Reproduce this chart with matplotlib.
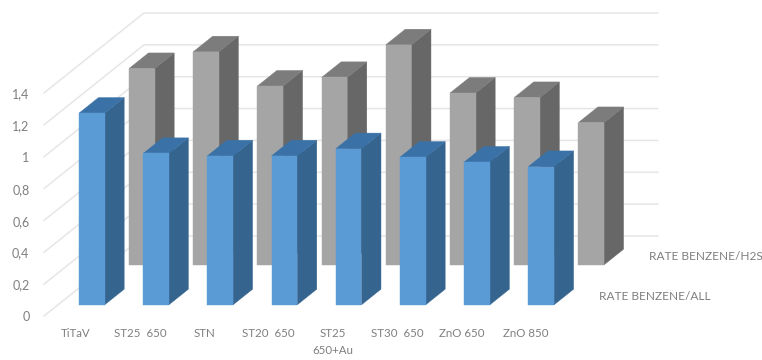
import matplotlib.pyplot as plt
from matplotlib.patches import Polygon

categories = ["TiTaV", "ST25  650", "STN", "ST20  650", "ST25\n650+Au", "ST30  650", "ZnO 650", "ZnO 850"]
rate_all = [1.203, 0.95, 0.935, 0.935, 0.98, 0.927, 0.896, 0.868]
rate_h2s = [1.232, 1.337, 1.122, 1.176, 1.381, 1.078, 1.05, 0.893]
value_ticks = [0, 0.2, 0.4, 0.6, 0.8, 1, 1.2, 1.4]
tick_labels = ["0", "0,2", "0,4", "0,6", "0,8", "1", "1,2", "1,4"]
series_names = ["RATE BENZENE/ALL", "RATE BENZENE/H2S"]

# oblique projection: one depth unit (one series row) in category / value units
SHEAR_X = 50 / 64.2
SHEAR_Y = 40 / 159.3
BAR_W = 0.4
BAR_D = 0.39
TEXT = "#7f7f7f"
GRID = "#e6e6e6"


def project(x, y, z):
    return x + z * SHEAR_X, y + z * SHEAR_Y


def draw_bar(ax, cat, value, row, front, side, top):
    x0 = cat + 0.327
    x1 = x0 + BAR_W
    z0 = row + 0.28
    z1 = z0 + BAR_D
    faces = [
        ([(x1, 0, z0), (x1, 0, z1), (x1, value, z1), (x1, value, z0)], side),
        ([(x0, value, z0), (x1, value, z0), (x1, value, z1), (x0, value, z1)], top),
        ([(x0, 0, z0), (x1, 0, z0), (x1, value, z0), (x0, value, z0)], front),
    ]
    for corners, color in faces:
        ax.add_patch(Polygon([project(*c) for c in corners], closed=True,
                             facecolor=color, edgecolor=color, linewidth=0.3, zorder=3 - row))


plt.rcParams["font.family"] = ["Lato", "DejaVu Sans"]
fig = plt.figure(figsize=(7.62, 3.6), dpi=100)
ax = fig.add_axes([0, 0, 1, 1])
ax.set_xlim(-44 / 64.2, 718 / 64.2)
ax.set_ylim(-44 / 159.3, 316 / 159.3)
ax.axis("off")

# side wall and back wall gridlines
n = len(categories)
for v, label in zip(value_ticks, tick_labels):
    pts = [project(0, v, 0), project(0, v, 2), project(n, v, 2)]
    ax.plot([p[0] for p in pts], [p[1] for p in pts], color=GRID, lw=1.1, zorder=1)
    ax.text(-14.5 / 64.2, v - 0.008, label, ha="right", va="center", color=TEXT, fontsize=9)

for i, value in enumerate(rate_h2s):
    draw_bar(ax, i, value, 1, "#a5a5a5", "#676767", "#7c7c7c")
for i, value in enumerate(rate_all):
    draw_bar(ax, i, value, 0, "#5b9bd5", "#35648f", "#3a72a8")

for i, name in enumerate(categories):
    ax.text(i + 0.5, -0.078, name, ha="center", va="top", color=TEXT,
            fontsize=8.3, linespacing=1.6)

# series names sit beside the front edge of each row
label_x = [555 / 64.2, 605 / 64.2]
label_y = [19 / 159.3, 59 / 159.3]
for name, x, y in zip(series_names, label_x, label_y):
    ax.text(x, y, name, ha="left", va="center", color=TEXT, fontsize=8.6)

fig.savefig("out.png", dpi=100)
